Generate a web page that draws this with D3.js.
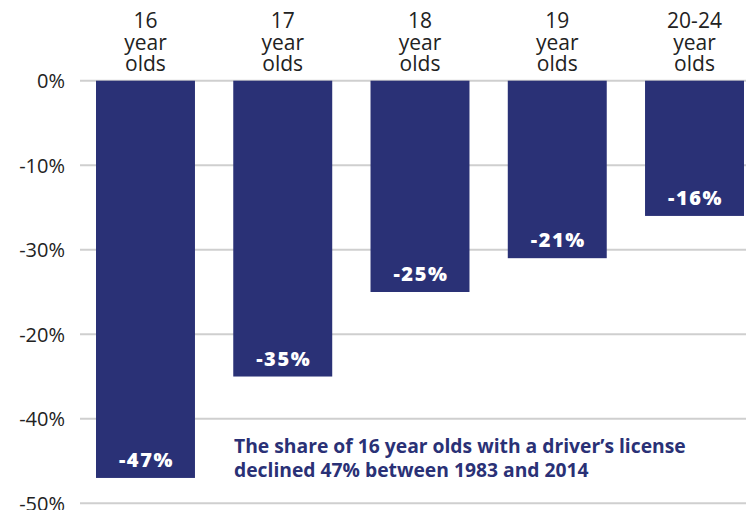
<!DOCTYPE html>
<html>
<head>
<meta charset="utf-8">
<script src="https://cdn.jsdelivr.net/npm/d3@7"></script>
<style>
  html, body { margin: 0; padding: 0; background: #fff; }
  svg { display: block; }
  text { font-family: "Open Sans", Lato, sans-serif; }
</style>
</head>
<body>
<svg id="chart" width="746" height="510"></svg>
<script>
// Change in share of young people holding a driver's license, 1983–2014
const categories = [["16", "year", "olds"], ["17", "year", "olds"], ["18", "year", "olds"], ["19", "year", "olds"], ["20-24", "year", "olds"]];
const values = [-47, -35, -25, -21, -16];
const tickValues = [0, -10, -20, -30, -40, -50];
const tickLabels = ["0%", "-10%", "-30%", "-20%", "-40%", "-50%"];
const note = ["The share of 16 year olds with a driver\u2019s license", "declined 47% between 1983 and 2014"];

const navy = "#2a3176";
const svg = d3.select("#chart");

const x = d3.scaleBand()
  .domain(d3.range(values.length))
  .range([96, 744])
  .paddingInner(0.279)
  .paddingOuter(0);

const y = d3.scaleLinear()
  .domain([0, -50])
  .range([80.7, 503.3]);

// gridlines
svg.append("g")
  .selectAll("line")
  .data(tickValues)
  .join("line")
  .attr("x1", 80)
  .attr("x2", 746)
  .attr("y1", d => y(d))
  .attr("y2", d => y(d))
  .attr("stroke", "#cfcfcf")
  .attr("stroke-width", 2);

// y axis labels
const yAxis = d3.axisLeft(y)
  .tickValues(tickValues)
  .tickSize(0)
  .tickPadding(0)
  .tickFormat((d, i) => tickLabels[i]);

const gy = svg.append("g")
  .attr("transform", "translate(65,0)")
  .call(yAxis);
gy.select(".domain").remove();
gy.selectAll("text")
  .attr("font-size", 20)
  .attr("fill", "#222")
  .attr("font-family", "'Open Sans', sans-serif")
  .attr("dy", "0.36em");

// bars
svg.append("g")
  .selectAll("rect")
  .data(values)
  .join("rect")
  .attr("x", (d, i) => x(i))
  .attr("y", y(0))
  .attr("width", x.bandwidth())
  .attr("height", d => y(d) - y(0))
  .attr("fill", navy);

// value labels inside bar ends
svg.append("g")
  .selectAll("text")
  .data(values)
  .join("text")
  .attr("x", (d, i) => x(i) + x.bandwidth() / 2 + 1)
  .attr("y", d => y(d) - 11)
  .attr("text-anchor", "middle")
  .attr("fill", "#fff")
  .attr("font-size", 20)
  .attr("font-weight", 800)
  .attr("letter-spacing", 1.6)
  .text(d => d + "%");

// category labels above the bars, one text per line
const lines = categories.flatMap((c, i) => c.map((t, j) => ({ i, j, t })));
svg.append("g")
  .selectAll("text")
  .data(lines)
  .join("text")
  .attr("x", d => x(d.i) + x.bandwidth() / 2)
  .attr("y", d => 28 + d.j * 21.5)
  .attr("text-anchor", "middle")
  .attr("fill", "#222")
  .attr("font-size", 21)
  .text(d => d.t);

// annotation
svg.append("g")
  .selectAll("text")
  .data(note)
  .join("text")
  .attr("x", 234)
  .attr("y", (d, i) => 453 + i * 24.4)
  .attr("fill", navy)
  .attr("font-size", 19.3)
  .attr("font-weight", 700)
  .text(d => d);
</script>
</body>
</html>
